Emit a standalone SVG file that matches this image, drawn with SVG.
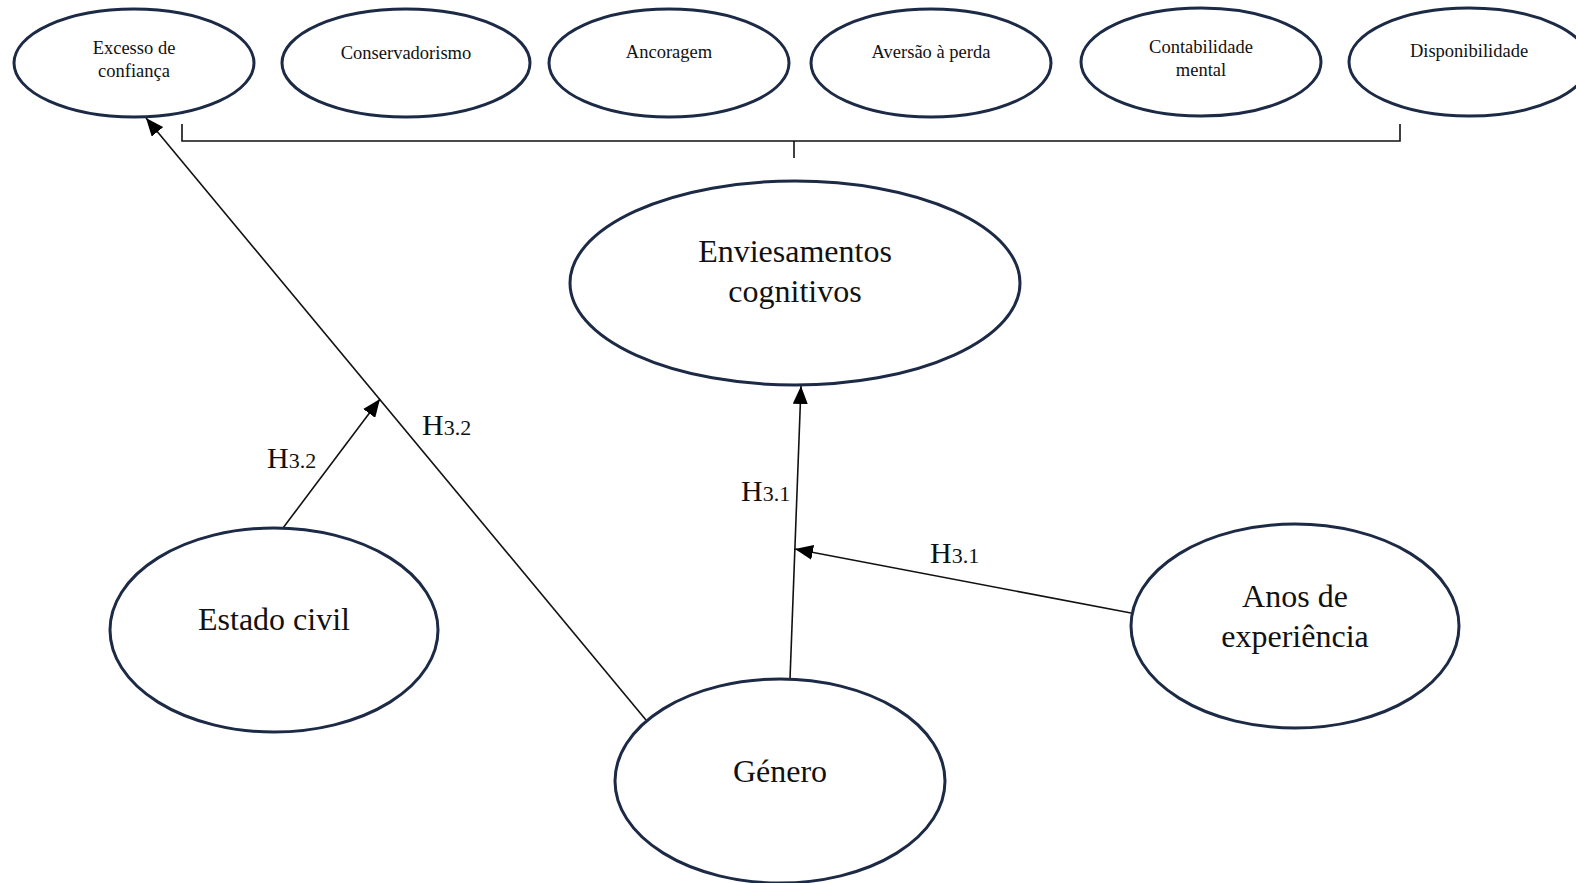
<svg xmlns="http://www.w3.org/2000/svg" width="1576" height="883" viewBox="0 0 1576 883">
<style>
.n{fill:#fff;stroke:#1c2a46;stroke-width:3}
.t{font-family:"Liberation Serif","Times New Roman",serif;fill:#111;text-anchor:middle}
.s{font-size:18.5px}
.b{font-size:32px}
.c{stroke:#111;stroke-width:1.6;fill:none}
.h{font-family:"Liberation Serif","Times New Roman",serif;fill:#111;font-size:30px}
.h tspan{font-size:22px}
</style>
<defs>
<marker id="a" viewBox="0 0 18 15" refX="18" refY="7.5" markerWidth="18" markerHeight="15" markerUnits="userSpaceOnUse" orient="auto">
<path d="M0,0 L18,7.5 L0,15 Z" fill="#000"/>
</marker>
</defs>
<rect width="1576" height="883" fill="#fff"/>
<g id="connectors">
<polyline class="c" points="182,124 182,141 1400,141 1400,124"/>
<line class="c" x1="794" y1="141" x2="794" y2="158"/>
<line class="c" x1="646" y1="720" x2="146" y2="118" marker-end="url(#a)"/>
<line class="c" x1="283" y1="528" x2="380" y2="399" marker-end="url(#a)"/>
<line class="c" x1="790" y1="679" x2="801" y2="386" marker-end="url(#a)"/>
<line class="c" x1="1131" y1="613" x2="795" y2="549" marker-end="url(#a)"/>
<text class="h" x="267" y="468">H<tspan>3.2</tspan></text>
<text class="h" x="422" y="435">H<tspan>3.2</tspan></text>
<text class="h" x="741" y="501">H<tspan>3.1</tspan></text>
<text class="h" x="930" y="563">H<tspan>3.1</tspan></text>
</g>
<g id="excesso">
<ellipse class="n" cx="134" cy="63" rx="120" ry="54"/>
<text class="t s" x="134" y="54">Excesso de</text>
<text class="t s" x="134" y="77">confiança</text>
</g>
<g id="conservadorismo">
<ellipse class="n" cx="406" cy="63" rx="124" ry="54"/>
<text class="t s" x="406" y="59">Conservadorismo</text>
</g>
<g id="ancoragem">
<ellipse class="n" cx="669" cy="63" rx="120" ry="54"/>
<text class="t s" x="669" y="58">Ancoragem</text>
</g>
<g id="aversao">
<ellipse class="n" cx="931" cy="63" rx="120" ry="54"/>
<text class="t s" x="931" y="58">Aversão à perda</text>
</g>
<g id="contabilidade">
<ellipse class="n" cx="1201" cy="62" rx="120" ry="54"/>
<text class="t s" x="1201" y="53">Contabilidade</text>
<text class="t s" x="1201" y="76">mental</text>
</g>
<g id="disponibilidade">
<ellipse class="n" cx="1469" cy="62" rx="120" ry="54"/>
<text class="t s" x="1469" y="57">Disponibilidade</text>
</g>
<g id="enviesamentos">
<ellipse class="n" cx="795" cy="283" rx="225" ry="102"/>
<text class="t b" x="795" y="262">Enviesamentos</text>
<text class="t b" x="795" y="302">cognitivos</text>
</g>
<g id="estado-civil">
<ellipse class="n" cx="274" cy="630" rx="164" ry="102"/>
<text class="t b" x="274" y="630">Estado civil</text>
</g>
<g id="genero">
<ellipse class="n" cx="780" cy="781" rx="165" ry="102"/>
<text class="t b" x="780" y="782">Género</text>
</g>
<g id="anos">
<ellipse class="n" cx="1295" cy="626" rx="164" ry="102"/>
<text class="t b" x="1295" y="607">Anos de</text>
<text class="t b" x="1295" y="647">experiência</text>
</g>
</svg>
